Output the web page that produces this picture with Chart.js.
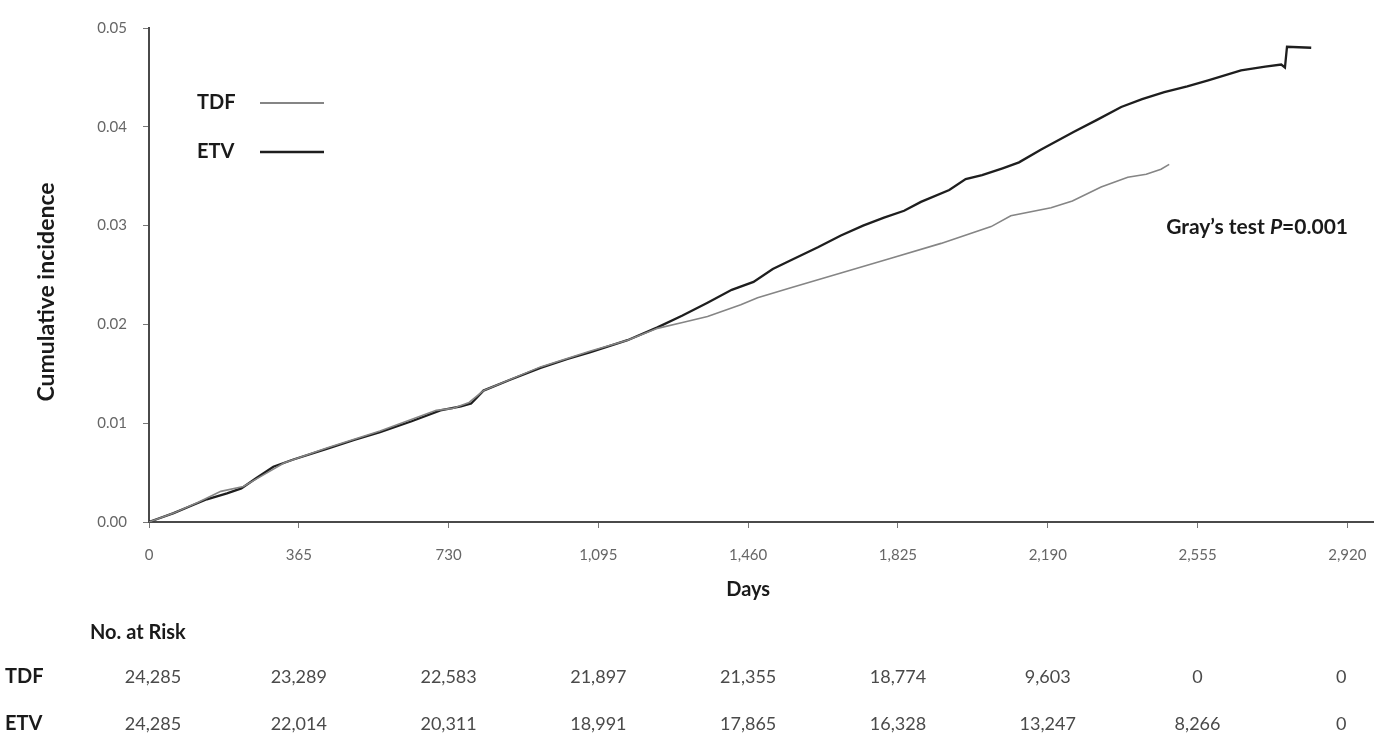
<!DOCTYPE html>
<html><head><meta charset="utf-8">
<script src="https://cdn.jsdelivr.net/npm/chart.js@4.4.1/dist/chart.umd.min.js"></script>
<style>html,body{margin:0;padding:0;background:#fff;}#wrap{width:1374px;height:739px;position:relative;}</style>
</head><body><div id="wrap"><canvas id="c"></canvas></div>
<script>
// ---- data ----
const tickDays = [0, 365, 730, 1095, 1460, 1825, 2190, 2555, 2920];
const yTicks = [0, 0.01, 0.02, 0.03, 0.04, 0.05];
const seriesNames = ['TDF', 'ETV'];
const tdfDays = [0, 60, 120, 175, 230, 280, 330, 433, 563, 700, 740, 780, 815, 954, 1076, 1166, 1239, 1300, 1361, 1442, 1483, 1564, 1686, 1808, 1930, 2052, 2100, 2198, 2250, 2320, 2385, 2430, 2466, 2486];
const tdfInc  = [0, 0.0009, 0.0020, 0.0031, 0.0036, 0.0048, 0.0060, 0.0075, 0.0092, 0.0113, 0.0115, 0.0121, 0.0133, 0.0157, 0.0173, 0.0184, 0.0196, 0.0202, 0.0208, 0.0220, 0.0227, 0.0237, 0.0252, 0.0267, 0.0282, 0.0299, 0.0310, 0.0318, 0.0325, 0.0339, 0.0349, 0.0352, 0.0357, 0.0362];
const etvDays = [0, 20, 60, 100, 141, 190, 225, 260, 303, 350, 433, 500, 563, 640, 710, 760, 785, 815, 880, 954, 1020, 1076, 1166, 1239, 1300, 1361, 1420, 1473, 1520, 1564, 1630, 1686, 1740, 1791, 1840, 1881, 1950, 1990, 2030, 2080, 2120, 2174, 2254, 2310, 2369, 2420, 2474, 2530, 2581, 2661, 2720, 2759, 2768, 2773, 2832];
const etvInc  = [0, 0.0003, 0.0009, 0.0016, 0.0023, 0.0029, 0.0034, 0.0044, 0.0056, 0.0063, 0.0074, 0.0083, 0.0091, 0.0102, 0.0113, 0.0117, 0.0120, 0.0133, 0.0144, 0.0156, 0.0165, 0.0172, 0.0184, 0.0197, 0.0209, 0.0222, 0.0235, 0.0243, 0.0256, 0.0265, 0.0278, 0.0290, 0.0300, 0.0308, 0.0315, 0.0324, 0.0336, 0.0347, 0.0351, 0.0358, 0.0364, 0.0377, 0.0395, 0.0407, 0.0420, 0.0428, 0.0435, 0.0441, 0.0447, 0.0457, 0.0461, 0.0463, 0.0460, 0.0481, 0.0480];
const tdfRisk = ['24,285', '23,289', '22,583', '21,897', '21,355', '18,774', '9,603', '0', '0'];
const etvRisk = ['24,285', '22,014', '20,311', '18,991', '17,865', '16,328', '13,247', '8,266', '0'];
const xTitle = 'Days';
const yTitle = 'Cumulative incidence';
const riskTitle = 'No. at Risk';
const testLabel = ["Gray\u2019s test ", "P", "=0.001"];

const colors = ['#858585', '#1e1e1e'];
const widths = [1.6, 2.3];

const overlay = {
  id: 'overlay',
  afterDraw(chart) {
    const ctx = chart.ctx, xs = chart.scales.x, ys = chart.scales.y;
    ctx.save();
    // y title
    ctx.save();
    ctx.translate(47, 292);
    ctx.rotate(-Math.PI / 2);
    ctx.font = 'bold 23px Lato';
    ctx.fillStyle = '#1a1a1a';
    ctx.textAlign = 'center'; ctx.textBaseline = 'middle';
    ctx.fillText(yTitle, 0, 0);
    ctx.restore();
    // x title
    ctx.font = 'bold 20px Lato';
    ctx.fillStyle = '#1a1a1a';
    ctx.textAlign = 'center'; ctx.textBaseline = 'middle';
    ctx.fillText(xTitle, xs.getPixelForValue((tickDays[0] + tickDays[tickDays.length - 1]) / 2), 590);
    // legend
    const legY = [103, 152];
    seriesNames.forEach((n, i) => {
      ctx.font = 'bold 20px Lato';
      ctx.fillStyle = '#1a1a1a';
      ctx.textAlign = 'left'; ctx.textBaseline = 'middle';
      ctx.fillText(n, 197, legY[i]);
      ctx.strokeStyle = colors[i]; ctx.lineWidth = widths[i] + 0.4;
      ctx.beginPath(); ctx.moveTo(260, legY[i]); ctx.lineTo(324, legY[i]); ctx.stroke();
    });
    // Gray's test
    ctx.textBaseline = 'middle'; ctx.textAlign = 'left';
    const f1 = 'bold 21px Lato', f2 = 'italic bold 21px Lato';
    ctx.font = f1; const w1 = ctx.measureText(testLabel[0]).width;
    ctx.font = f2; const w2 = ctx.measureText(testLabel[1]).width;
    ctx.font = f1; const w3 = ctx.measureText(testLabel[2]).width;
    let tx = 1348 - (w1 + w2 + w3);
    ctx.fillStyle = '#1a1a1a';
    ctx.font = f1; ctx.fillText(testLabel[0], tx, 227); tx += w1;
    ctx.font = f2; ctx.fillText(testLabel[1], tx, 227); tx += w2;
    ctx.font = f1; ctx.fillText(testLabel[2], tx, 227);
    // risk table
    ctx.font = 'bold 20px Lato'; ctx.textAlign = 'left';
    ctx.fillText(riskTitle, 90, 633);
    const rows = [tdfRisk, etvRisk], rowY = [677, 724];
    rows.forEach((r, i) => {
      ctx.font = 'bold 20px Lato'; ctx.fillStyle = '#1a1a1a'; ctx.textAlign = 'left';
      ctx.fillText(seriesNames[i], 5, rowY[i]);
      ctx.font = '18px Lato'; ctx.fillStyle = '#4a4a4a'; ctx.textAlign = 'center';
      r.forEach((v, j) => {
        let px = xs.getPixelForValue(tickDays[j]);
        if (j === 0) px += 4;
        if (j === r.length - 1) px -= 6;
        ctx.fillText(v, px, rowY[i]);
      });
    });
    ctx.restore();
  }
};

new Chart(document.getElementById('c'), {
  type: 'scatter',
  data: {
    datasets: [
      { label: seriesNames[0], data: tdfDays.map((d, i) => ({ x: d, y: tdfInc[i] })), showLine: true, borderColor: colors[0], borderWidth: widths[0], pointRadius: 0, tension: 0 },
      { label: seriesNames[1], data: etvDays.map((d, i) => ({ x: d, y: etvInc[i] })), showLine: true, borderColor: colors[1], borderWidth: widths[1], pointRadius: 0, tension: 0 }
    ]
  },
  options: {
    responsive: true, maintainAspectRatio: false, animation: false,
    layout: { padding: { top: 28, left: 0, right: 0, bottom: 157 } },
    plugins: { legend: { display: false }, tooltip: { enabled: false } },
    scales: {
      x: {
        type: 'linear', min: 0, max: 2985,
        afterBuildTicks: s => { s.ticks = tickDays.map(v => ({ value: v })); },
        afterFit: s => { s.height = 60; s.paddingRight = 0; s.paddingLeft = 0; },
        ticks: { color: '#666', font: { family: 'Lato', size: 15 }, padding: 18, maxRotation: 0, autoSkip: false,
                 callback: v => v.toLocaleString('en-US') },
        grid: { display: true, drawOnChartArea: false, drawTicks: true, tickLength: 6, color: '#777' },
        border: { display: true, color: '#4a4a4a', width: 2 }
      },
      y: {
        min: 0, max: 0.05,
        afterBuildTicks: s => { s.ticks = yTicks.map(v => ({ value: v })); },
        afterFit: s => { s.width = 149; s.paddingTop = 0; s.paddingBottom = 0; },
        ticks: { color: '#666', font: { family: 'Lato', size: 15 }, padding: 16,
                 callback: v => v.toFixed(2) },
        grid: { display: true, drawOnChartArea: false, drawTicks: true, tickLength: 6, color: '#777' },
        border: { display: true, color: '#4a4a4a', width: 2 }
      }
    }
  },
  plugins: [overlay]
});
</script></body></html>
